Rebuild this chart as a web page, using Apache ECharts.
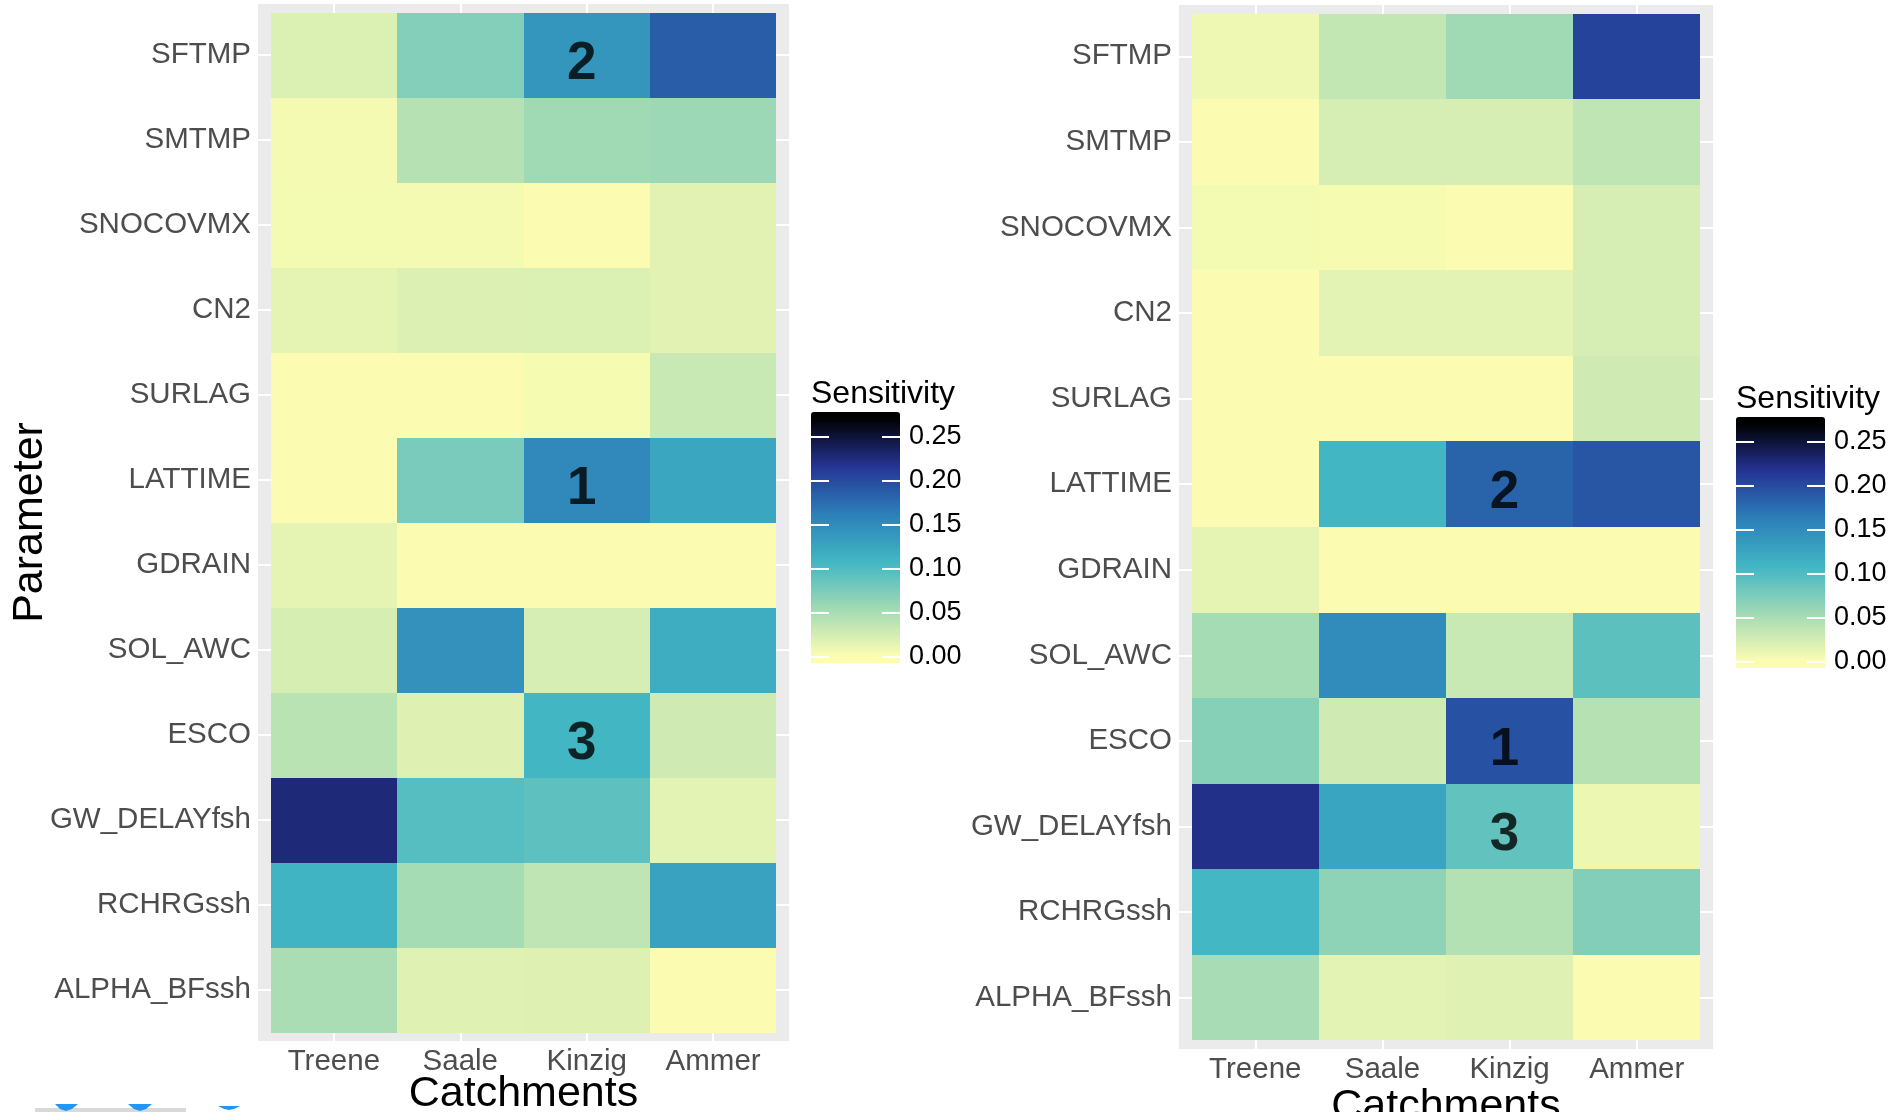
<!DOCTYPE html>
<html>
<head>
<meta charset="utf-8">
<title>Parameter sensitivity by catchment</title>
<script src="https://cdn.jsdelivr.net/npm/echarts@6/dist/echarts.min.js"></script>
<style>
  html, body { margin: 0; padding: 0; background: #ffffff; }
  #chart { width: 1895px; height: 1112px; }
</style>
</head>
<body>
<div id="chart"></div>
<script>
// ---- data -------------------------------------------------------------
const CATCHMENTS = ['Treene', 'Saale', 'Kinzig', 'Ammer'];
const PARAMETERS = ['SFTMP', 'SMTMP', 'SNOCOVMX', 'CN2', 'SURLAG', 'LATTIME',
  'GDRAIN', 'SOL_AWC', 'ESCO', 'GW_DELAYfsh', 'RCHRGssh', 'ALPHA_BFssh'];

// Sensitivity, one row per parameter, columns Treene, Saale, Kinzig, Ammer
const SENS_LEFT = [
  [0.020, 0.071, 0.140, 0.187],
  [0.005, 0.042, 0.055, 0.057],
  [0.006, 0.005, 0.000, 0.016],
  [0.014, 0.019, 0.020, 0.016],
  [0.001, 0.000, 0.004, 0.031],
  [0.001, 0.076, 0.153, 0.124],
  [0.014, 0.000, 0.000, 0.000],
  [0.022, 0.145, 0.023, 0.117],
  [0.040, 0.018, 0.108, 0.027],
  [0.227, 0.097, 0.092, 0.015],
  [0.110, 0.052, 0.037, 0.128],
  [0.049, 0.017, 0.018, 0.000]
];
const SENS_RIGHT = [
  [0.008, 0.034, 0.055, 0.206],
  [0.001, 0.023, 0.023, 0.037],
  [0.006, 0.004, 0.000, 0.023],
  [0.001, 0.015, 0.015, 0.023],
  [0.000, 0.000, 0.000, 0.027],
  [0.001, 0.108, 0.182, 0.193],
  [0.014, 0.000, 0.000, 0.000],
  [0.052, 0.150, 0.031, 0.093],
  [0.069, 0.027, 0.196, 0.042],
  [0.221, 0.125, 0.090, 0.010],
  [0.107, 0.065, 0.043, 0.072],
  [0.051, 0.015, 0.017, 0.000]
];

// Rank annotations: [catchment, parameter, rank]
const RANKS_LEFT = [['Kinzig', 'LATTIME', 1], ['Kinzig', 'SFTMP', 2], ['Kinzig', 'ESCO', 3]];
const RANKS_RIGHT = [['Kinzig', 'ESCO', 1], ['Kinzig', 'LATTIME', 2], ['Kinzig', 'GW_DELAYfsh', 3]];

// Colour scale
const SCALE_LIMITS = [0, 0.271];
const LEGEND_BREAKS = [0, 0.05, 0.10, 0.15, 0.20, 0.25];

// ---- styling helpers ---------------------------------------------------
const FONT = '"Liberation Sans", Arial, Helvetica, sans-serif';
const PALETTE = ['#fdfdb2', '#a1dab4', '#41b6c4', '#2c7fb8', '#253494', '#000000'];
// the legend bar runs half a bin past the limits at both ends
const BAR_RANGE = [-0.0075, 0.2785];

function hexToRgb(h) {
  return [parseInt(h.substr(1, 2), 16), parseInt(h.substr(3, 2), 16), parseInt(h.substr(5, 2), 16)];
}
function paletteAt(v) {
  const c = Math.min(Math.max(v, SCALE_LIMITS[0]), SCALE_LIMITS[1]);
  const t = (c - SCALE_LIMITS[0]) / (SCALE_LIMITS[1] - SCALE_LIMITS[0]) * (PALETTE.length - 1);
  const i = Math.min(Math.floor(t), PALETTE.length - 2);
  const f = t - i;
  const a = hexToRgb(PALETTE[i]), b = hexToRgb(PALETTE[i + 1]);
  const m = a.map((x, k) => Math.round(x + (b[k] - x) * f));
  return 'rgb(' + m.join(',') + ')';
}
const RAMP = [];
for (let k = 0; k <= 60; k++) {
  RAMP.push(paletteAt(BAR_RANGE[0] + (BAR_RANGE[1] - BAR_RANGE[0]) * k / 60));
}

function tileData(matrix) {
  const out = [];
  matrix.forEach((row, r) => row.forEach((v, c) => out.push([c, r, v])));
  return out;
}
function rankData(list) {
  return list.map(d => [CATCHMENTS.indexOf(d[0]), PARAMETERS.indexOf(d[1]), d[2]]);
}

function renderTile(params, api) {
  const x = api.value(0), y = api.value(1);
  const p0 = api.coord([x - 0.5, y - 0.5]);
  const p1 = api.coord([x + 0.5, y + 0.5]);
  const x0 = Math.round(Math.min(p0[0], p1[0])), x1 = Math.round(Math.max(p0[0], p1[0]));
  const y0 = Math.round(Math.min(p0[1], p1[1])), y1 = Math.round(Math.max(p0[1], p1[1]));
  return {
    type: 'rect',
    shape: { x: x0, y: y0, width: x1 - x0, height: y1 - y0 },
    style: { fill: api.visual('color') }
  };
}

const TICK_IDX_X = CATCHMENTS.map((_, i) => i);
const TICK_IDX_Y = PARAMETERS.map((_, i) => i);

function panelX(gridIndex, nameGap) {
  return {
    type: 'value', gridIndex: gridIndex, min: -0.6, max: 3.6,
    name: 'Catchments', nameLocation: 'middle', nameGap: nameGap, nameMoveOverlap: false,
    nameTextStyle: { fontFamily: FONT, fontSize: 43, color: '#000000' },
    axisLine: { show: false },
    axisTick: { show: true, customValues: TICK_IDX_X, length: 5, lineStyle: { color: '#333333', width: 1.5 } },
    axisLabel: { show: true, customValues: TICK_IDX_X, formatter: v => CATCHMENTS[v],
      fontFamily: FONT, fontSize: 29.5, color: '#4d4d4d', margin: 6 },
    splitLine: { show: true, lineStyle: { color: '#ffffff', width: 2 } }
  };
}
function panelY(gridIndex, withName) {
  const ax = {
    type: 'value', gridIndex: gridIndex, min: -0.6, max: 11.6, inverse: true,
    axisLine: { show: false },
    axisTick: { show: true, customValues: TICK_IDX_Y, length: 5, lineStyle: { color: '#333333', width: 1.5 } },
    axisLabel: { show: true, customValues: TICK_IDX_Y, formatter: v => PARAMETERS[v],
      fontFamily: FONT, fontSize: 29.5, color: '#4d4d4d', margin: 7 },
    splitLine: { show: true, lineStyle: { color: '#ffffff', width: 2 } }
  };
  if (withName) {
    Object.assign(ax, {
      name: 'Parameter', nameLocation: 'middle', nameGap: 206, nameRotate: 90, nameMoveOverlap: false,
      nameTextStyle: { fontFamily: FONT, fontSize: 43, color: '#000000' }
    });
  }
  return ax;
}
function legendAxes(gridIndex) {
  const base = {
    type: 'value', gridIndex: gridIndex, min: BAR_RANGE[0], max: BAR_RANGE[1], z: 10,
    axisLine: { show: false }, splitLine: { show: false }
  };
  return [
    Object.assign({}, base, {
      position: 'left',
      axisTick: { show: true, inside: true, length: 18, customValues: LEGEND_BREAKS,
        lineStyle: { color: '#ffffff', width: 2 } },
      axisLabel: { show: false }
    }),
    Object.assign({}, base, {
      position: 'right',
      axisTick: { show: true, inside: true, length: 18, customValues: LEGEND_BREAKS,
        lineStyle: { color: '#ffffff', width: 2 } },
      axisLabel: { show: true, customValues: LEGEND_BREAKS, formatter: v => v.toFixed(2),
        fontFamily: FONT, fontSize: 27, color: '#000000', margin: 9 }
    })
  ];
}
function colourBar(seriesIndex, left, top) {
  return {
    type: 'continuous', seriesIndex: seriesIndex, dimension: 2,
    min: BAR_RANGE[0], max: BAR_RANGE[1], calculable: false, hoverLink: false,
    left: left, top: top, padding: 0, itemWidth: 89, itemHeight: 251,
    inRange: { color: RAMP }
  };
}
function rankSeries(xi, yi, list) {
  return {
    type: 'scatter', xAxisIndex: xi, yAxisIndex: yi, data: rankData(list),
    symbolSize: 0, z: 5, silent: true,
    label: { show: true, position: 'inside', formatter: p => String(p.value[2]),
      fontFamily: FONT, fontSize: 53, fontWeight: 'bold', color: '#000000', offset: [-5, 9] }
  };
}

const option = {
  animation: false,
  backgroundColor: '#ffffff',
  title: [
    { text: 'Sensitivity', left: 811, top: 378, padding: 0,
      textStyle: { fontFamily: FONT, fontSize: 32, fontWeight: 'normal', color: '#000000' } },
    { text: 'Sensitivity', left: 1736, top: 383, padding: 0,
      textStyle: { fontFamily: FONT, fontSize: 32, fontWeight: 'normal', color: '#000000' } }
  ],
  grid: [
    { left: 258, top: 4, width: 531, height: 1037, show: true, backgroundColor: '#ebebeb', borderWidth: 0, outerBoundsMode: 'none' },
    { left: 1179, top: 5, width: 534, height: 1044, show: true, backgroundColor: '#ebebeb', borderWidth: 0, outerBoundsMode: 'none' },
    { left: 811, top: 412, width: 89, height: 251, show: false, outerBoundsMode: 'none' },
    { left: 1736, top: 417, width: 89, height: 251, show: false, outerBoundsMode: 'none' }
  ],
  xAxis: [
    panelX(0, 32),
    panelX(1, 37),
    { type: 'value', gridIndex: 2, show: false, min: 0, max: 1 },
    { type: 'value', gridIndex: 3, show: false, min: 0, max: 1 }
  ],
  yAxis: [panelY(0, true), panelY(1, false)].concat(legendAxes(2), legendAxes(3)),
  visualMap: [colourBar(0, 811, 412), colourBar(1, 1736, 417)],
  series: [
    { type: 'custom', xAxisIndex: 0, yAxisIndex: 0, data: tileData(SENS_LEFT), renderItem: renderTile, z: 2, silent: true },
    { type: 'custom', xAxisIndex: 1, yAxisIndex: 1, data: tileData(SENS_RIGHT), renderItem: renderTile, z: 2, silent: true },
    rankSeries(0, 0, RANKS_LEFT),
    rankSeries(1, 1, RANKS_RIGHT)
  ],
  graphic: [
    { type: 'rect', shape: { x: 35, y: 1108, width: 151, height: 6 }, style: { fill: '#d9d9d9' } },
    { type: 'polygon', shape: { points: [[55, 1104], [60, 1109], [66, 1111], [72, 1109], [78, 1104]] }, style: { fill: '#2196f3' } },
    { type: 'polygon', shape: { points: [[128, 1104], [134, 1109], [140, 1111], [146, 1109], [152, 1104]] }, style: { fill: '#2196f3' } },
    { type: 'polygon', shape: { points: [[218, 1106], [224, 1109], [229, 1110], [234, 1109], [240, 1106]] }, style: { fill: '#2196f3' } }
  ]
};

const chart = echarts.init(document.getElementById('chart'), null, { renderer: 'canvas' });
chart.setOption(option);
</script>
</body>
</html>
